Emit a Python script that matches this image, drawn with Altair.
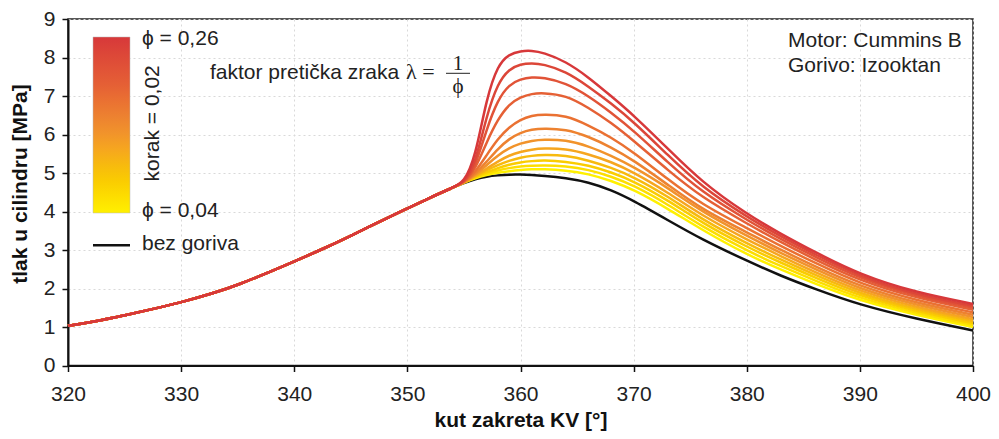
import altair as alt
import pandas as pd

# ---- data ----
# compression stroke (all curves coincide here)
x_comp = [320, 322, 325, 328, 330, 333, 335, 338, 340, 343, 345, 348, 350, 352, 354]
p_comp = [1.03, 1.12, 1.30, 1.50, 1.64, 1.89, 2.09, 2.45, 2.70, 3.09, 3.37, 3.80, 4.08, 4.36, 4.62]

# combustion / expansion part, separate per curve
x_comb = [355, 356, 357, 358, 359, 360, 361, 362, 364, 366, 368, 370, 373, 376, 380, 383, 386, 390, 395, 400]
p_black = [4.74, 4.84, 4.91, 4.94, 4.96, 4.96, 4.95, 4.93, 4.87, 4.76, 4.56, 4.28, 3.78, 3.28, 2.72, 2.33, 1.99, 1.57, 1.21, 0.91]

phi_values = [0.04, 0.06, 0.08, 0.10, 0.12, 0.14, 0.16, 0.18, 0.20, 0.22, 0.24, 0.26]
p_004 = [4.75, 4.87, 4.95, 5.01, 5.05, 5.08, 5.10, 5.10, 5.07, 4.98, 4.80, 4.57, 4.08, 3.53, 2.88, 2.49, 2.13, 1.68, 1.31, 1.00]
p_006 = [4.75, 4.89, 4.98, 5.07, 5.13, 5.17, 5.19, 5.20, 5.18, 5.09, 4.91, 4.68, 4.19, 3.62, 2.98, 2.58, 2.21, 1.74, 1.36, 1.05]
p_008 = [4.75, 4.90, 5.02, 5.13, 5.22, 5.28, 5.31, 5.33, 5.30, 5.20, 5.02, 4.79, 4.30, 3.71, 3.08, 2.67, 2.29, 1.80, 1.41, 1.10]
p_010 = [4.75, 4.92, 5.07, 5.21, 5.32, 5.40, 5.45, 5.47, 5.46, 5.33, 5.14, 4.90, 4.40, 3.80, 3.17, 2.75, 2.36, 1.86, 1.46, 1.15]
p_012 = [4.75, 4.93, 5.11, 5.30, 5.46, 5.55, 5.61, 5.64, 5.63, 5.49, 5.29, 5.02, 4.50, 3.90, 3.27, 2.84, 2.43, 1.92, 1.51, 1.20]
p_014 = [4.75, 4.95, 5.20, 5.46, 5.65, 5.77, 5.84, 5.87, 5.86, 5.70, 5.45, 5.16, 4.62, 4.00, 3.37, 2.92, 2.51, 1.98, 1.57, 1.26]
p_016 = [4.75, 4.98, 5.29, 5.63, 5.89, 6.05, 6.13, 6.16, 6.14, 5.95, 5.67, 5.33, 4.70, 4.06, 3.46, 3.00, 2.58, 2.05, 1.62, 1.32]
p_018 = [4.75, 5.02, 5.46, 5.89, 6.19, 6.39, 6.49, 6.52, 6.50, 6.24, 5.93, 5.54, 4.84, 4.19, 3.57, 3.10, 2.67, 2.12, 1.69, 1.38]
p_020 = [4.75, 5.09, 5.80, 6.40, 6.79, 6.97, 7.06, 7.08, 7.02, 6.70, 6.31, 5.84, 5.08, 4.37, 3.69, 3.20, 2.76, 2.20, 1.75, 1.45]
p_022 = [4.75, 5.15, 6.14, 6.91, 7.30, 7.44, 7.49, 7.48, 7.34, 7.00, 6.57, 6.10, 5.28, 4.51, 3.78, 3.28, 2.83, 2.26, 1.80, 1.50]
p_024 = [4.75, 5.23, 6.49, 7.34, 7.70, 7.83, 7.85, 7.83, 7.64, 7.25, 6.81, 6.33, 5.47, 4.64, 3.86, 3.35, 2.89, 2.31, 1.84, 1.55]
p_026 = [4.75, 5.40, 6.95, 7.81, 8.09, 8.17, 8.18, 8.13, 7.90, 7.49, 7.00, 6.50, 5.64, 4.77, 3.93, 3.42, 2.95, 2.36, 1.89, 1.60]
curves = [p_004, p_006, p_008, p_010, p_012, p_014, p_016, p_018, p_020, p_022, p_024, p_026]

x_ticks = [320, 330, 340, 350, 360, 370, 380, 390, 400]
y_ticks = [0, 1, 2, 3, 4, 5, 6, 7, 8, 9]
color_range = ["#fff000", "#f7bf08", "#ee8a30", "#e45c36", "#d7383a"]

label_top = "ϕ = 0,26"
label_bottom = "ϕ = 0,04"
label_step = "korak = 0,02"
label_black = "bez goriva"
label_lambda = "faktor pretička zraka"
label_lambda_sym = "λ ="
label_num = "1"
label_den = "ϕ"
label_motor = "Motor: Cummins B"
label_fuel = "Gorivo: Izooktan"

# ---- tables ----
rows = []
for phi, vals in zip(phi_values, curves):
    for x, p in zip(x_comp + x_comb, p_comp + vals):
        rows.append({"x": x, "p": p, "phi": phi})
df = pd.DataFrame(rows)
black_df = pd.DataFrame({"x": x_comp + x_comb, "p": p_comp + p_black})
one = pd.DataFrame({"a": [0]})

FONT = "Liberation Sans"
SERIF = "Liberation Serif"
TXT = "#222222"

x_enc = alt.X(
    "x:Q",
    scale=alt.Scale(domain=[320, 400], nice=False, zero=False),
    axis=alt.Axis(values=x_ticks, title="kut zakreta KV [°]", labelPadding=12,
                  labelFlush=False, titleY=60.5, titleBaseline="alphabetic"),
)
y_enc = alt.Y(
    "p:Q",
    scale=alt.Scale(domain=[0, 9], nice=False),
    axis=alt.Axis(values=y_ticks, title="tlak u cilindru [MPa]", labelPadding=7,
                  labelFlush=False, titleX=-48, titleY=164.5, titleBaseline="middle"),
)

black = alt.Chart(black_df).mark_line(
    color="#111111", strokeWidth=2.5, interpolate="basis"
).encode(x=x_enc, y=y_enc)

colored = alt.Chart(df).mark_line(strokeWidth=2.5, interpolate="basis").encode(
    x=x_enc,
    y=y_enc,
    color=alt.Color(
        "phi:Q",
        scale=alt.Scale(domain=[0.04, 0.26], range=color_range),
        legend=alt.Legend(
            orient="none", legendX=25, legendY=18, direction="vertical",
            gradientLength=176, gradientThickness=37, labelExpr="''", title=None,
            gradientStrokeColor="#bbbbbb", gradientStrokeWidth=0.5,
        ),
    ),
    detail="phi:N",
)


def txt(text, x, y, size=21, font=FONT, align="left", baseline="alphabetic", angle=0):
    kw = dict(text=text, font=font, fontSize=size, color=TXT, align=align, baseline=baseline)
    if angle:
        kw["angle"] = angle
    return alt.Chart(one).mark_text(**kw).encode(x=alt.value(x), y=alt.value(y))


texts = [
    txt(label_top, 74, 26),
    txt(label_bottom, 74, 198.3),
    txt(label_step, 84.5, 104.3, align="center", baseline="middle", angle=270),
    txt(label_black, 74, 231),
    txt(label_lambda, 142, 60.3),
    txt(label_lambda_sym, 338, 60.3, font=SERIF, size=22),
    txt(label_num, 390, 51, font=SERIF, align="center"),
    txt(label_den, 390, 73.5, font=SERIF, align="center"),
    txt(label_motor, 720, 28.3),
    txt(label_fuel, 720, 53.3),
]

black_key = alt.Chart(one).mark_rule(color="#111111", strokeWidth=2.5).encode(
    x=alt.value(25), x2=alt.value(62), y=alt.value(226.3)
)
frac = alt.Chart(one).mark_rule(color=TXT, strokeWidth=1).encode(
    x=alt.value(378), x2=alt.value(402), y=alt.value(54.3)
)

chart = alt.layer(black, colored, black_key, frac, *texts).properties(
    width=905,
    height=346.5,
    autosize=alt.AutoSizeParams(type="none"),
    padding={"left": 60, "top": 11, "right": 18, "bottom": 65.5},
).configure_axis(
    labelFont=FONT, labelFontSize=21, labelColor=TXT,
    titleFont=FONT, titleFontSize=21, titleFontWeight="bold", titleColor="#111111",
    domainColor="#111111", domainWidth=2, tickColor="#111111", tickWidth=1.5, tickSize=6,
    gridColor="#d9d9d9", gridDash=[2, 3], gridWidth=1,
).configure_view(stroke="#222222", strokeWidth=1.5)

chart.save("out.html", embed_options={"renderer": "svg", "actions": False})
